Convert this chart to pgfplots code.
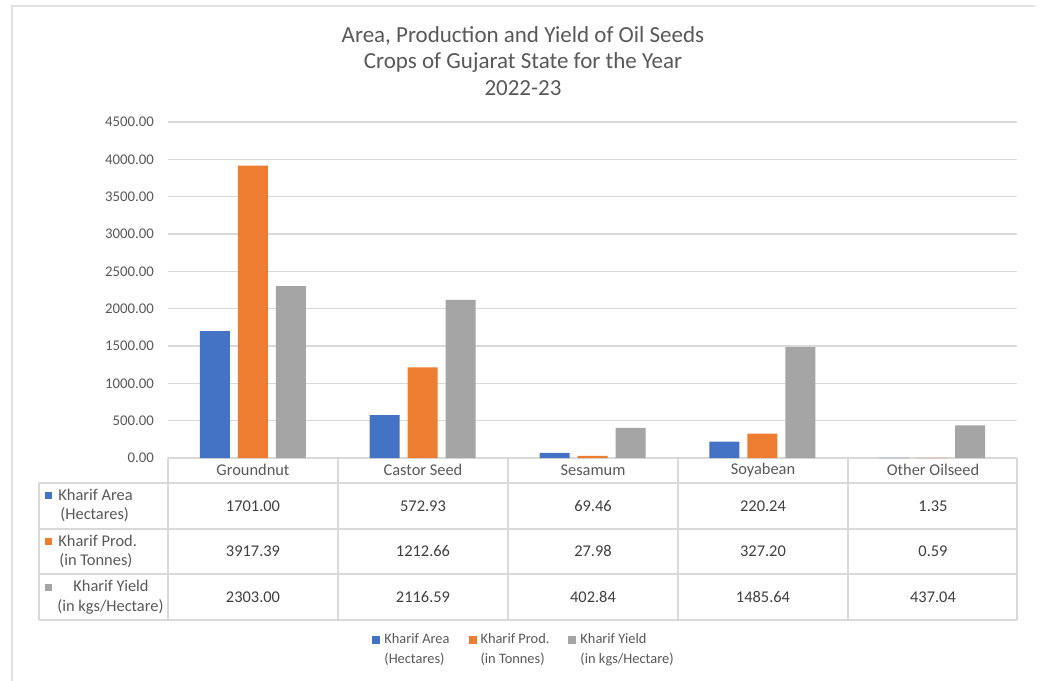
\documentclass[border=0pt]{standalone}
\usepackage{pgfplots}
\pgfplotsset{compat=1.18}
\usepackage{fontspec}
\setmainfont{Carlito}
\definecolor{cblue}{HTML}{4472C4}
\definecolor{corange}{HTML}{ED7D31}
\definecolor{cgray}{HTML}{A5A5A5}
\definecolor{txt}{HTML}{595959}
\definecolor{txtd}{HTML}{404040}
\definecolor{gridc}{HTML}{D9D9D9}
\begin{document}
\begin{tikzpicture}
\path[use as bounding box, fill=white] (0,0) rectangle (520.5pt,-340.5pt);
\begin{scope}[x=0.5pt,y=-0.5pt]
% outer border
\draw[gridc!80, line width=0.8pt] (11,6) -- (1035,6);
\draw[gridc!80, line width=0.8pt] (12,6) -- (12,681);
% title
\node[txt, align=center, font=\fontsize{11.5}{13.3}\selectfont] at (523,61)
  {Area, Production and Yield of Oil Seeds\\Crops of Gujarat State for the Year\\2022-23};
% table lines
\draw[gridc, line width=0.6pt] (168,458) -- (1017,458);
\foreach \yy in {483,529,574,620} \draw[gridc, line width=0.6pt] (39,\yy) -- (1017,\yy);
\draw[gridc, line width=0.6pt] (39,483) -- (39,620);
\foreach \xx in {168,338,508,678,848,1017} \draw[gridc, line width=0.6pt] (\xx,458) -- (\xx,620);
% category names
\begin{scope}[every node/.style={txt, font=\fontsize{8.2}{10}\selectfont}]
\node at (253,470) {Groundnut};
\node at (423,470) {Castor Seed};
\node at (593,470) {Sesamum};
\node at (763,470) {Soyabean};
\node at (933,470) {Other Oilseed};
\end{scope}
% values
\begin{scope}[every node/.style={txtd, font=\fontsize{8.2}{10}\selectfont}]
\node at (253,506) {1701.00};
\node at (423,506) {572.93};
\node at (593,506) {69.46};
\node at (763,506) {220.24};
\node at (933,506) {1.35};
\node at (253,551) {3917.39};
\node at (423,551) {1212.66};
\node at (593,551) {27.98};
\node at (763,551) {327.20};
\node at (933,551) {0.59};
\node at (253,597) {2303.00};
\node at (423,597) {2116.59};
\node at (593,597) {402.84};
\node at (763,597) {1485.64};
\node at (933,597) {437.04};
\end{scope}
% row headers
\begin{scope}[every node/.style={txt, font=\fontsize{8.2}{10}\selectfont, anchor=west, inner sep=0pt}]
\node at (45,495) {\textcolor{cblue}{\rule{3.5pt}{3.5pt}}};
\node at (58,495) {Kharif Area};
\node at (60,515) {(Hectares)};
\node at (45,541) {\textcolor{corange}{\rule{3.5pt}{3.5pt}}};
\node at (58,541) {Kharif Prod.};
\node at (59,561) {(in Tonnes)};
\node at (45,587) {\textcolor{cgray}{\rule{3.5pt}{3.5pt}}};
\node at (73,586) {Kharif Yield};
\node at (57,607) {(in kgs/Hectare)};
\end{scope}
\end{scope}
\begin{axis}[
  at={(84pt,-229pt)}, anchor=south west,
  scale only axis, width=424.5pt, height=168pt,
  xmin=-0.5, xmax=4.5, ymin=0, ymax=4500,
  ytick={0,500,...,4500}, xtick=\empty,
  axis line style={draw=none},
  ymajorgrids, grid style={color=gridc, line width=0.6pt},
  major tick length=0pt,
  /pgf/number format/assume math mode=true,
  yticklabel style={font=\fontsize{7.4}{8}\selectfont, color=txt, xshift=-3.5pt,
    /pgf/number format/.cd, fixed, fixed zerofill, precision=2, 1000 sep={}},
  clip=false,
  bar width=15pt,
  legend style={at={(0.4205,-0.571)}, anchor=center, draw=none,
    font=\fontsize{7.2}{10}\selectfont, text=txt,
    cells={align=left},
    /tikz/every odd column/.append style={column sep=0pt},
    /tikz/every even column/.append style={column sep=7.5pt}},
  legend columns=3,
  legend image code/.code={\fill[#1] (0pt,3pt) rectangle (4pt,7pt);},
]
\addplot[ybar, fill=cblue, draw=none, bar shift=-19pt] coordinates {(0,1701.00) (1,572.93) (2,69.46) (3,220.24) (4,1.35)};
\addplot[ybar, fill=corange, draw=none, bar shift=0pt] coordinates {(0,3917.39) (1,1212.66) (2,27.98) (3,327.20) (4,0.59)};
\addplot[ybar, fill=cgray, draw=none, bar shift=19pt] coordinates {(0,2303.00) (1,2116.59) (2,402.84) (3,1485.64) (4,437.04)};
\legend{Kharif Area\\(Hectares), Kharif Prod.\\(in Tonnes), Kharif Yield\\(in kgs/Hectare)}
\end{axis}
\end{tikzpicture}
\end{document}
